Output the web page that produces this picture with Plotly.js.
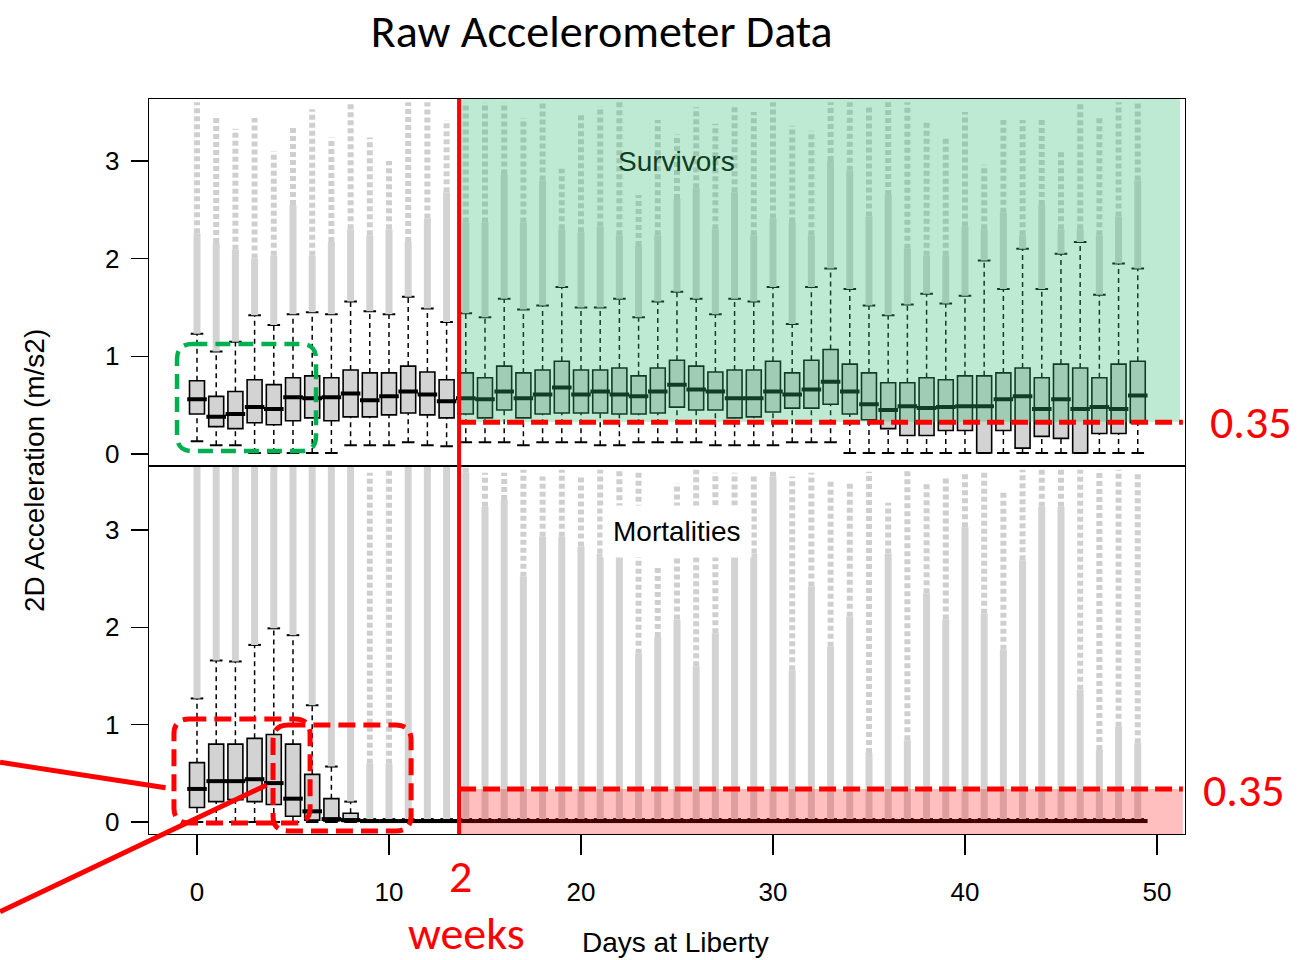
<!DOCTYPE html>
<html><head><meta charset="utf-8">
<script src="https://cdn.plot.ly/plotly-3.0.1.min.js"></script>
<style>body{margin:0;background:#fff}</style>
</head><body><div id="chart" style="width:1301px;height:960px"></div>
<script>
// ---------------- DATA ----------------
const days = [0,1,2,3,4,5,6,7,8,9,10,11,12,13,14,15,16,17,18,19,20,21,22,23,24,25,26,27,28,29,30,31,32,33,34,35,36,37,38,39,40,41,42,43,44,45,46,47,48,49];
const xTicks = [0,10,20,30,40,50];
const yTicks = [0,1,2,3];
const threshold = 0.35;
const thresholdDay = 13.65;

// Survivors (top panel)
const survQ1  = [0.41,0.28,0.26,0.32,0.30,0.34,0.37,0.34,0.38,0.38, 0.40,0.42,0.40,0.37,0.41,0.37,0.45,0.37,0.41,0.42, 0.42,0.42,0.41,0.41,0.42,0.48,0.45,0.45,0.37,0.38, 0.43,0.47,0.47,0.51,0.41,0.35,0.26,0.19,0.19,0.24, 0.24,0.01,0.24,0.06,0.18,0.16,0.01,0.21,0.21,0.32];
const survMed = [0.56,0.38,0.41,0.48,0.46,0.58,0.57,0.58,0.62,0.55, 0.59,0.64,0.61,0.54,0.57,0.56,0.64,0.57,0.61,0.68, 0.61,0.64,0.61,0.59,0.64,0.71,0.66,0.64,0.57,0.57, 0.64,0.61,0.66,0.74,0.64,0.51,0.45,0.49,0.47,0.48, 0.49,0.49,0.56,0.59,0.46,0.56,0.46,0.48,0.46,0.60];
const survQ3  = [0.75,0.59,0.64,0.76,0.71,0.78,0.80,0.78,0.86,0.83, 0.83,0.90,0.84,0.76,0.83,0.78,0.90,0.83,0.86,0.95, 0.86,0.86,0.88,0.80,0.88,0.96,0.90,0.84,0.86,0.86, 0.95,0.83,0.96,1.07,0.92,0.83,0.73,0.73,0.78,0.76, 0.80,0.80,0.83,0.88,0.78,0.92,0.88,0.78,0.92,0.95];
const survLo  = [0.13,0.09,0.09,0.01,0.01,0.01,0.01,0.01,0.09,0.09, 0.09,0.12,0.09,0.08,0.12,0.12,0.12,0.09,0.12,0.12, 0.12,0.09,0.09,0.12,0.12,0.12,0.12,0.09,0.09,0.09, 0.09,0.12,0.12,0.12,0.01,0.01,0.01,0.01,0.01,0.01, 0.01,0.01,0.01,0.01,0.01,0.01,0.01,0.01,0.01,0.01];
const survHi  = [1.23,1.05,1.15,1.42,1.32,1.43,1.45,1.43,1.56,1.46, 1.43,1.61,1.49,1.35,1.44,1.40,1.59,1.48,1.52,1.71, 1.50,1.50,1.59,1.40,1.56,1.66,1.59,1.43,1.59,1.56, 1.71,1.33,1.71,1.90,1.69,1.52,1.42,1.53,1.64,1.54, 1.62,1.98,1.69,2.10,1.69,2.05,2.17,1.63,1.95,1.90];
const survOutDense = [2.26,2.16,2.09,2.00,2.03,2.55,2.03,2.17,2.30,2.24, 2.30,2.17,2.41,2.68,2.37,2.37,2.86,2.37,2.80,2.30, 2.27,2.33,2.24,2.13,2.24,2.61,2.72,2.30,2.68,2.24, 2.41,2.37,2.24,3.00,2.90,2.43,2.65,2.10,2.03,2.03, 2.33,2.30,2.47,2.24,2.55,2.30,2.30,2.24,2.43,2.80];
const survOutMax   = [3.60,3.44,3.33,3.44,3.10,3.36,3.53,3.24,3.60,3.24, 3.00,3.60,3.60,3.42,3.60,3.60,3.60,3.44,3.60,2.92, 3.48,3.56,3.60,2.65,3.42,3.27,3.55,3.38,3.55,3.50, 3.60,3.36,3.31,3.60,3.60,3.55,3.60,3.60,3.40,3.24, 3.50,2.96,3.42,3.42,3.45,3.10,3.60,3.45,3.60,3.60];

// Mortalities (bottom panel)
const mortQ1  = [0.15,0.21,0.23,0.21,0.18,0.06,0.02,0.01,0.005,0, 0,0,0,0,0,0,0,0,0,0, 0,0,0,0,0,0,0,0,0,0, 0,0,0,0,0,0,0,0,0,0, 0,0,0,0,0,0,0,0,0,0];
const mortMed = [0.34,0.42,0.42,0.44,0.40,0.24,0.11,0.03,0.02,0.01, 0.01,0.01,0.01,0.01,0.01,0.01,0.01,0.01,0.01,0.01, 0.01,0.01,0.01,0.01,0.01,0.01,0.01,0.01,0.01,0.01, 0.01,0.01,0.01,0.01,0.01,0.01,0.01,0.01,0.01,0.01, 0.01,0.01,0.01,0.01,0.01,0.01,0.01,0.01,0.01,0.01];
const mortQ3  = [0.61,0.80,0.80,0.86,0.90,0.80,0.49,0.24,0.09,0.02, 0.02,0.02,0.02,0.02,0.02,0.02,0.02,0.02,0.02,0.02, 0.02,0.02,0.02,0.02,0.02,0.02,0.02,0.02,0.02,0.02, 0.02,0.02,0.02,0.02,0.02,0.02,0.02,0.02,0.02,0.02, 0.02,0.02,0.02,0.02,0.02,0.02,0.02,0.02,0.02,0.02];
const mortLo  = [0,0,0,0,0,0,0,0,0,0, 0,0,0,0,0,0,0,0,0,0, 0,0,0,0,0,0,0,0,0,0, 0,0,0,0,0,0,0,0,0,0, 0,0,0,0,0,0,0,0,0,0];
const mortHi  = [1.27,1.66,1.65,1.82,1.99,1.92,1.20,0.57,0.21,0.03, 0.03,0.03,0.03,0.03,0.03,0.03,0.03,0.03,0.03,0.03, 0.03,0.03,0.03,0.03,0.03,0.03,0.03,0.03,0.03,0.03, 0.03,0.03,0.03,0.03,0.03,0.03,0.03,0.03,0.03,0.03, 0.03,0.03,0.03,0.03,0.03,0.03,0.03,0.03,0.03,0.03];
const mortOutDense = [3.70,3.70,3.70,3.70,3.70,3.70,3.70,3.70,3.70,0.60, 0.60,3.70,3.70,3.70,3.59,3.24,3.31,2.52,2.93,2.93, 2.83,2.76,2.73,1.73,1.90,2.08,1.60,1.94,2.76,2.76, 3.55,1.56,2.42,1.80,2.11,0.71,2.76,0.84,2.35,2.08, 3.03,2.14,1.77,2.69,3.24,3.24,1.36,0.74,0.98,0.81];
const mortOutMax   = [3.70,3.70,3.70,3.70,3.70,3.70,3.70,3.70,3.70,3.59, 3.62,3.70,3.70,3.70,3.65,3.59,3.59,3.62,3.55,3.62, 3.57,3.62,3.62,3.62,2.62,3.48,3.62,3.59,3.59,3.57, 3.60,3.55,3.59,3.50,3.50,3.60,3.28,3.62,3.48,3.53, 3.59,3.59,3.41,3.62,3.62,3.62,3.62,3.62,3.62,3.60];

// ---------------- BUILD ----------------
const AX = 'Liberation Sans, Arial, sans-serif';
const CAL = 'Carlito, Lato, sans-serif';

function panelTraces(xa, ya, q1, med, q3, lo, hi, dense, mx){
  const wx=[], wy=[], dx=[], dy=[], sx=[], sy=[];
  days.forEach((d,i)=>{
    wx.push(d,d,null,d,d,null); wy.push(q3[i],hi[i],null,lo[i],q1[i],null);
    if (dense[i] > hi[i]) { dx.push(d,d,null); dy.push(hi[i],dense[i],null); }
    const s0 = Math.max(dense[i], hi[i]);
    if (mx[i] > s0) { sx.push(d,d,null); sy.push(s0,mx[i],null); }
  });
  return [
    {type:'box', x:days, q1:q1, median:med, q3:q3, lowerfence:q1, upperfence:q3,
     width:0.78, boxpoints:false, fillcolor:'#d3d3d3', line:{color:'#000',width:1.6},
     xaxis:xa, yaxis:ya, hoverinfo:'skip'},
    {type:'scatter', mode:'lines', x:wx, y:wy, line:{color:'#000',width:1.5,dash:'5px,4px'},
     xaxis:xa, yaxis:ya, hoverinfo:'skip'},
    {type:'scatter', mode:'markers', x:days.concat(days), y:lo.concat(hi),
     marker:{symbol:'line-ew', size:9, line:{color:'#000',width:2}}, xaxis:xa, yaxis:ya, hoverinfo:'skip'},
    {type:'scatter', mode:'lines', x:dx, y:dy, line:{color:'#d3d3d3',width:7},
     xaxis:xa, yaxis:ya, hoverinfo:'skip'},
    {type:'scatter', mode:'lines', x:sx, y:sy, line:{color:'#cfcfcf',width:6,dash:'5px,3px'},
     xaxis:xa, yaxis:ya, hoverinfo:'skip'},
    {type:'scatter', mode:'markers', x:days, y:med,
     marker:{symbol:'line-ew', size:14, line:{color:'#000',width:4}}, xaxis:xa, yaxis:ya, hoverinfo:'skip'}
  ];
}

const data = panelTraces('x','y',survQ1,survMed,survQ3,survLo,survHi,survOutDense,survOutMax)
  .concat(panelTraces('x2','y2',mortQ1,mortMed,mortQ3,mortLo,mortHi,mortOutDense,mortOutMax));

function roundRect(x0,x1,y0,y1,rx,ry){
  return `M ${x0+rx},${y1} L ${x1-rx},${y1} Q ${x1},${y1} ${x1},${y1-ry} L ${x1},${y0+ry} Q ${x1},${y0} ${x1-rx},${y0} L ${x0+rx},${y0} Q ${x0},${y0} ${x0},${y0+ry} L ${x0},${y1-ry} Q ${x0},${y1} ${x0+rx},${y1} Z`;
}

const xRange = [-2.5, 51.46];
const yRangeTop = [-0.128, 3.634];
const yRangeBot = [-0.123, 3.653];

const shapes = [
  {type:'rect', xref:'x', yref:'y', x0:thresholdDay, x1:51.2, y0:0.33, y1:yRangeTop[1],
   fillcolor:'rgba(52,186,114,0.32)', line:{width:0}},
  {type:'rect', xref:'x2', yref:'y2', x0:thresholdDay, x1:51.35, y0:yRangeBot[0], y1:0.34,
   fillcolor:'rgba(255,0,0,0.25)', line:{width:0}},
  {type:'line', xref:'x', yref:'y', x0:thresholdDay, x1:51.35, y0:0.325, y1:0.325,
   line:{color:'#ff0000', width:5, dash:'17px,7px'}},
  {type:'line', xref:'x2', yref:'y2', x0:thresholdDay, x1:51.35, y0:0.34, y1:0.34,
   line:{color:'#ff0000', width:5, dash:'17px,7px'}},
  {type:'line', xref:'x', yref:'paper', x0:thresholdDay, x1:thresholdDay, y0:0, y1:1,
   line:{color:'#ff0000', width:4}},
  {type:'path', xref:'x', yref:'y', path:roundRect(-1.04,6.2,0.03,1.126,0.8,0.155),
   line:{color:'#00b050', width:4.5, dash:'15px,8px'}},
  {type:'path', xref:'x2', yref:'y2', path:roundRect(-1.2,5.89,-0.01,1.058,0.8,0.155),
   line:{color:'#ff0000', width:5, dash:'17px,8px'}},
  {type:'path', xref:'x2', yref:'y2', path:roundRect(3.96,11.15,-0.092,0.997,0.8,0.155),
   line:{color:'#ff0000', width:5, dash:'17px,8px'}},
  {type:'line', xref:'paper', yref:'paper', x0:-0.1438, y0:0.0975, x1:0.016, y1:0.063,
   line:{color:'#ff0000', width:5}},
  {type:'line', xref:'paper', yref:'paper', x0:-0.1438, y0:-0.1057, x1:0.1136, y1:0.0667,
   line:{color:'#ff0000', width:5}}
];

const annotations = [
  {text:'Survivors', xref:'x', yref:'y', x:25, y:2.99, showarrow:false,
   font:{family:AX, size:28, color:'rgb(17,60,36)'}},
  {text:'Mortalities', xref:'x2', yref:'y2', x:25, y:2.99, showarrow:false,
   bgcolor:'#ffffff', borderpad:10, font:{family:AX, size:28, color:'#000'}},
  {text:String(threshold), xref:'paper', yref:'y', x:1.0637, y:0.33, showarrow:false,
   xanchor:'center', yanchor:'middle', font:{family:CAL, size:46, color:'#ff0000'}},
  {text:String(threshold), xref:'paper', yref:'y2', x:1.057, y:0.33, showarrow:false,
   xanchor:'center', yanchor:'middle', font:{family:CAL, size:46, color:'#ff0000'}},
  {text:'2', xref:'x2', yref:'paper', x:13.75, y:-0.0571, showarrow:false,
   yanchor:'middle', font:{family:CAL, size:46, color:'#ff0000'}},
  {text:'weeks', xref:'x2', yref:'paper', x:14.06, y:-0.1347, showarrow:false,
   yanchor:'middle', font:{family:CAL, size:46, color:'#ff0000'}},
  {text:'Days at Liberty', xref:'x2', yref:'paper', x:24.9, y:-0.148, showarrow:false,
   yanchor:'middle', font:{family:AX, size:28, color:'#000'}},
  {text:'2D Acceleration (m/s2)', xref:'paper', yref:'paper', x:-0.110, y:0.494, showarrow:false,
   textangle:-90, xanchor:'center', yanchor:'middle', font:{family:AX, size:28, color:'#000'}}
];

const baseX = {range:xRange, showgrid:false, zeroline:false, showline:true,
  linecolor:'#000', linewidth:1.3};
const baseY = {showgrid:false, zeroline:false, showline:true, mirror:true, linecolor:'#000', linewidth:1.3,
  tickvals:yTicks, ticks:'outside', ticklen:17, tickwidth:1.3, tickcolor:'#000',
  tickfont:{family:AX, size:26, color:'#000'}, ticklabelstandoff:6};

const layout = {
  width:1301, height:960,
  margin:{l:149, r:116, t:99, b:126},
  paper_bgcolor:'#fff', plot_bgcolor:'#fff',
  showlegend:false, hovermode:false,
  title:{text:'Raw Accelerometer Data', font:{family:CAL, size:46, color:'#000'},
    x:0.437, xref:'paper', xanchor:'center', y:0.968, yref:'container', yanchor:'middle'},
  xaxis: Object.assign({}, baseX, {anchor:'y', side:'top', mirror:false, showticklabels:false, ticks:''}),
  xaxis2: Object.assign({}, baseX, {anchor:'y2', mirror:true, tickvals:xTicks, ticks:'outside', ticklen:20,
    tickwidth:1.3, tickcolor:'#000', tickfont:{family:AX, size:26, color:'#000'}, ticklabelstandoff:14}),
  yaxis: Object.assign({}, baseY, {domain:[0.5,1], anchor:'x', range:yRangeTop}),
  yaxis2: Object.assign({}, baseY, {domain:[0,0.5], anchor:'x2', range:yRangeBot}),
  shapes: shapes,
  annotations: annotations
};

Plotly.newPlot('chart', data, layout, {staticPlot:true, displayModeBar:false});
</script>
</body></html>
